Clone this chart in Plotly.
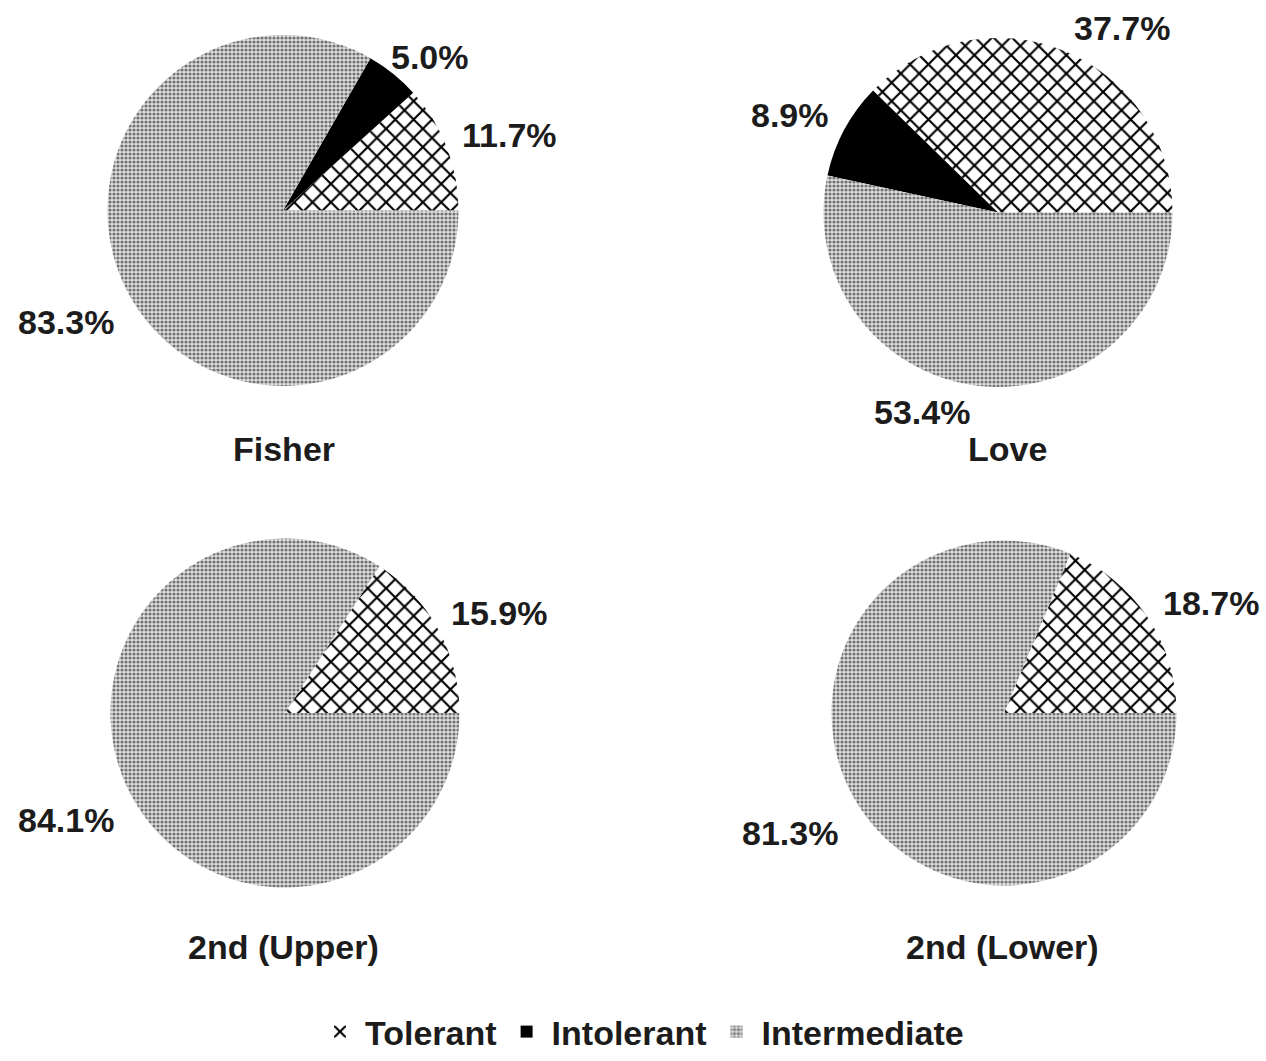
import plotly.graph_objects as go

# Percent of taxa in each tolerance class, per sampling site
sites = ["Fisher", "Love", "2nd (Upper)", "2nd (Lower)"]
categories = ["Tolerant", "Intolerant", "Intermediate"]
tolerant = [11.7, 37.7, 15.9, 18.7]
intolerant = [5.0, 8.9, 0.0, 0.0]
intermediate = [83.3, 53.4, 84.1, 81.3]

W, H = 1266, 1061

# Pie centre (x, y) and radius, in pixels
pie_geom = [(283, 211, 176), (998, 213, 175), (285, 715, 175), (1004, 715, 173)]
# Percent label centres per pie: tolerant, intolerant, intermediate
label_pos = [
    [(509, 135), (430, 57), (66, 323)],
    [(1122, 28), (790, 115), (922, 413)],
    [(499, 615), None, (66, 822)],
    [(1211, 605), None, (790, 835)],
]
title_pos = [(284, 450), (1007, 450), (283, 950), (1002, 950)]

FONT = "Liberation Sans, Arial, sans-serif"
INK = "#1c1c1c"
FS = 34

slice_colors = ["white", "black", "#c0c0c0"]
pattern = dict(
    shape=["x", "", "."],
    fgcolor=["black", "black", "#727272"],
    bgcolor=["white", "black", "#e0e0e0"],
    size=[13, 8, 4],
    solidity=[0.3, 1.0, 0.5],
    fillmode="replace",
)

fig = go.Figure()
annotations = []


def px(x, y):
    return x / W, 1 - y / H


for i, site in enumerate(sites):
    vals = [tolerant[i], intolerant[i], intermediate[i]]
    total = sum(vals)
    cx, cy, r = pie_geom[i]
    fig.add_trace(go.Pie(
        labels=categories,
        values=vals,
        sort=False,
        direction="counterclockwise",
        # first slice (Tolerant) rises from the 3 o'clock radius
        rotation=90 - 360 * vals[0] / total,
        textinfo="none",
        hoverinfo="label+percent",
        marker=dict(colors=slice_colors, line=dict(width=0), pattern=pattern),
        domain=dict(x=[(cx - r) / W, (cx + r) / W],
                    y=[1 - (cy + r) / H, 1 - (cy - r) / H]),
        showlegend=(i == 0),
        name=site,
    ))
    for v, pos in zip(vals, label_pos[i]):
        if pos is None or v == 0:
            continue
        x, y = px(*pos)
        annotations.append(dict(
            x=x, y=y, xref="paper", yref="paper",
            text=f"{v:.1f}%",
            showarrow=False, xanchor="center", yanchor="middle",
            font=dict(size=FS, color=INK, family=FONT, weight="bold")))
    x, y = px(*title_pos[i])
    annotations.append(dict(x=x, y=y, xref="paper", yref="paper",
                            text=site, showarrow=False,
                            xanchor="center", yanchor="middle",
                            font=dict(size=FS, color=INK, family=FONT, weight="bold")))

lx, ly = px(642, 1035)
fig.update_layout(
    width=W, height=H,
    margin=dict(l=0, r=0, t=0, b=0),
    paper_bgcolor="white",
    plot_bgcolor="white",
    annotations=annotations,
    legend=dict(orientation="h", x=lx, y=ly, xanchor="center", yanchor="middle",
                font=dict(size=FS, color=INK, family=FONT, weight="bold"),
                itemwidth=40, itemsizing="constant", traceorder="normal"),
)

fig.write_html("out.html")
